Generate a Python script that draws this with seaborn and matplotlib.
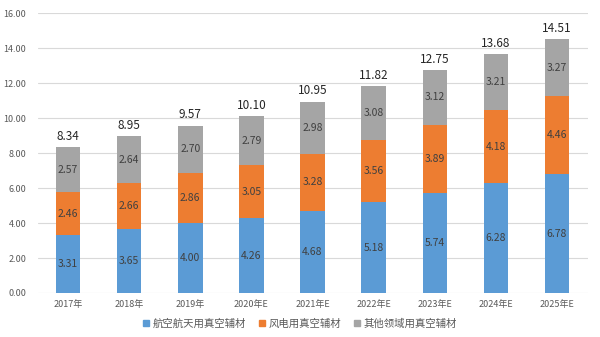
import numpy as np
import pandas as pd
import matplotlib
matplotlib.use("Agg")
import matplotlib.pyplot as plt
import seaborn as sns
from matplotlib.patches import Patch

years = ["2017年", "2018年", "2019年", "2020年E", "2021年E", "2022年E", "2023年E", "2024年E", "2025年E"]
aero = [3.31, 3.65, 4.00, 4.26, 4.68, 5.18, 5.74, 6.28, 6.78]
wind = [2.46, 2.66, 2.86, 3.05, 3.28, 3.56, 3.89, 4.18, 4.46]
other = [2.57, 2.64, 2.70, 2.79, 2.98, 3.08, 3.12, 3.21, 3.27]
totals = [8.34, 8.95, 9.57, 10.10, 10.95, 11.82, 12.75, 13.68, 14.51]
series_names = ["航空航天用真空辅材", "风电用真空辅材", "其他领域用真空辅材"]
colors = ["#5B9BD5", "#ED7D31", "#A5A5A5"]

sns.set_theme(style="white")
plt.rcParams['font.family'] = ['Noto Sans CJK SC', 'DejaVu Sans']

df = pd.DataFrame({"year": years, "aero": aero, "wind": wind, "other": other})
df["c1"] = df["aero"]
df["c2"] = df["aero"] + df["wind"]
df["c3"] = df["c2"] + df["other"]

fig = plt.figure(figsize=(6, 3.37), dpi=100)
ax = fig.add_axes([0.0625, 0.1306, 0.9167, 0.8304])

w = 0.4
for col, c in zip(["c3", "c2", "c1"], [colors[2], colors[1], colors[0]]):
    sns.barplot(data=df, x="year", y=col, color=c, width=w, ax=ax, saturation=1,
                zorder=3, linewidth=0, edgecolor="none")

conts = ax.containers
seg_vals = [other, wind, aero]
for cont, vals in zip(conts, seg_vals):
    for bar, v in zip(cont, vals):
        top = bar.get_y() + bar.get_height()
        ax.text(bar.get_x() + bar.get_width() / 2, top - v / 2, f"{v:.2f}",
                ha="center", va="center", fontsize=7.5, color="#404040", zorder=5)
for bar, t in zip(conts[0], totals):
    ax.text(bar.get_x() + bar.get_width() / 2, bar.get_height() + 0.25, f"{t:.2f}",
            ha="center", va="bottom", fontsize=8.5, color="#262626", zorder=5)

ax.set_ylim(0, 16)
ax.set_xlim(-0.5, 8.5)
ax.set_yticks(np.arange(0, 16.1, 2))
ax.set_yticklabels([f"{v:.2f}" for v in np.arange(0, 16.1, 2)])
ax.yaxis.grid(True, color="#D9D9D9", linewidth=0.8, zorder=0)
ax.set_axisbelow(True)
for s in ax.spines.values():
    s.set_visible(False)
ax.tick_params(axis="both", length=0, labelsize=6.5, labelcolor="#595959")
ax.tick_params(axis="x", pad=5)
ax.tick_params(axis="y", pad=8)
ax.set_xlabel("")
ax.set_ylabel("")

handles = [Patch(color=c, label=n) for c, n in zip(colors, series_names)]
fig.legend(handles=handles, loc="center", bbox_to_anchor=(0.5, 0.04), ncol=3, frameon=False,
           fontsize=7.5, handlelength=0.55, handleheight=0.55, handletextpad=0.3, columnspacing=1.3,
           labelcolor="#595959")

fig.savefig("out.png", dpi=100)
